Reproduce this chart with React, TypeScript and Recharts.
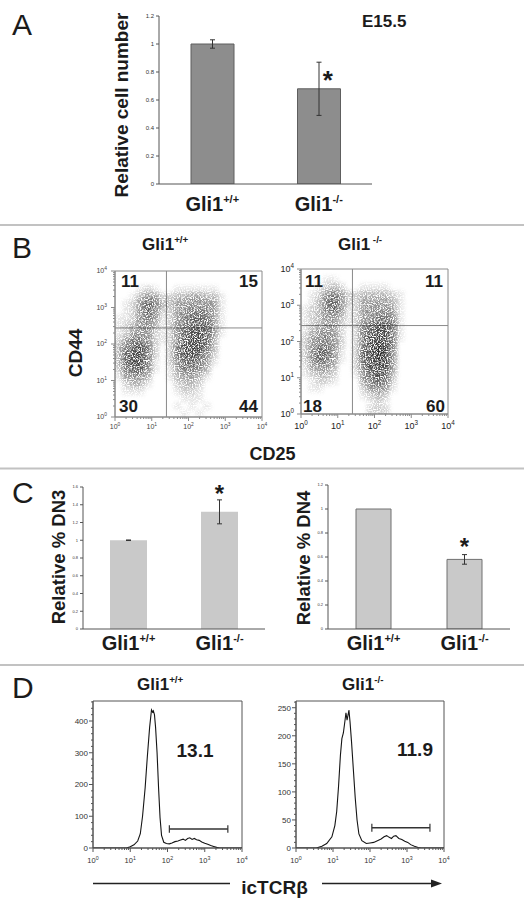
import React from 'react';
import {
  BarChart, Bar, XAxis, YAxis, ErrorBar, ReferenceDot, ReferenceLine, ReferenceArea,
  ScatterChart, Scatter, LineChart, Line,
} from 'recharts';

const FONT = '"Liberation Sans", Arial, Helvetica, sans-serif';
const INK = '#1b1b1b';

// ---------------- Panel A ----------------
const genotypes = ['Gli1+/+', 'Gli1-/-'];
const aRelCellNumber = [1.0, 0.68];
const aRelCellNumberErr = [0.03, 0.19];
const aSignificant = [false, true];
const aYTicks = [0, 0.2, 0.4, 0.6, 0.8, 1, 1.2];

// ---------------- Panel B ----------------
const bGateLogCD25 = 1.4;
const bGateLogCD44 = 2.44;
const bWtQuadrants = ['11', '15', '30', '44']; // UL, UR, LL, LR
const bKoQuadrants = ['11', '11', '18', '60'];
// event density, 0.2-decade cells, rows from CD44 10^4 down to 10^0
const bWtDensity = [
  '00000000000000000000',
  '00000000000000000000',
  '00012100111111000000',
  '00135422334433100000',
  '01257633455554100000',
  '01257522456664100000',
  '11256412467764100000',
  '12355312567774100000',
  '12455212578874100000',
  '24665212578873000000',
  '36786202688863000000',
  '37886202688752000000',
  '37886102577641000000',
  '26775101466530000000',
  '14553001344310000000',
  '02331000233200000000',
  '01110000122100000000',
  '00000000011100000000',
  '00000000101010000000',
  '00000000010100000000',
];
const bKoDensity = [
  '00000000000000000000',
  '00011000000000000000',
  '00123200111100000000',
  '01256422333321000000',
  '01367522444431000000',
  '12367512455541000000',
  '12355312456651000000',
  '12344212567761000000',
  '13454202678861000000',
  '24565202688861000000',
  '25665202689860000000',
  '25775102789850000000',
  '25765102789850000000',
  '14553002688840000000',
  '12332001578730000000',
  '01221000467620000000',
  '01100000245410000000',
  '00000000123200000000',
  '00000000012100000000',
  '00000000022200000000',
];

// ---------------- Panel C ----------------
const cDN3 = [1.0, 1.32];
const cDN3Err = [0.003, 0.135];
const cDN3Sig = [false, true];
const cDN3YTicks = [0, 0.2, 0.4, 0.6, 0.8, 1, 1.2, 1.4, 1.6];
const cDN4 = [1.0, 0.58];
const cDN4Err = [0, 0.04];
const cDN4Sig = [false, true];
const cDN4YTicks = [0, 0.2, 0.4, 0.6, 0.8, 1, 1.2];

// ---------------- Panel D ----------------
const dWtLogX = [0, 0.5, 0.9, 1.0, 1.1, 1.2, 1.27, 1.33, 1.4, 1.46, 1.52, 1.57, 1.6, 1.62, 1.65, 1.68, 1.72, 1.76, 1.8, 1.84, 1.9, 1.97, 2.05, 2.12, 2.2, 2.28, 2.35, 2.42, 2.48, 2.54, 2.6, 2.66, 2.72, 2.78, 2.85, 2.92, 3.0, 3.08, 3.16, 3.24, 3.32, 3.4, 4];
const dWtCount = [0, 0, 0, 4, 10, 22, 45, 100, 190, 290, 380, 435, 428, 432, 420, 380, 300, 190, 95, 40, 18, 14, 13, 16, 20, 22, 25, 28, 24, 30, 32, 27, 30, 26, 24, 19, 15, 12, 8, 5, 2, 0, 0];
const dKoLogX = [0, 0.55, 0.7, 0.83, 0.97, 1.05, 1.1, 1.15, 1.2, 1.24, 1.28, 1.32, 1.35, 1.38, 1.41, 1.43, 1.46, 1.5, 1.55, 1.6, 1.65, 1.7, 1.78, 1.9, 2.0, 2.1, 2.2, 2.3, 2.38, 2.45, 2.52, 2.58, 2.64, 2.7, 2.78, 2.86, 2.94, 3.02, 3.1, 3.2, 3.3, 3.38, 4];
const dKoCount = [0, 0, 3, 8, 20, 40, 65, 110, 165, 195, 205, 225, 241, 228, 238, 246, 225, 190, 140, 90, 50, 25, 13, 8, 9, 10, 13, 16, 20, 22, 19, 17, 21, 22, 17, 15, 12, 10, 6, 3, 1, 0, 0];
const dGateLog = [2.05, 3.62];
const dWtGateLevel = 60;
const dKoGateLevel = 36;
const dWtPercent = '13.1';
const dKoPercent = '11.9';
const dWtYMax = 463;
const dKoYMax = 262;

// ---------------- helpers ----------------
const logTicks: number[] = (() => {
  const t: number[] = [];
  for (let d = 0; d < 4; d++) {
    t.push(d);
    for (let k = 2; k < 10; k++) t.push(d + Math.log10(k));
  }
  t.push(4);
  return t;
})();

function frame(x0: number, y0: number, x1: number, y1: number, yw: number, xh: number, pad = 8) {
  return {
    style: { position: 'absolute' as const, left: x0 - yw - pad, top: y0 - pad },
    width: x1 - x0 + yw + 2 * pad,
    height: y1 - y0 + xh + 2 * pad,
    margin: { left: pad, top: pad, right: pad, bottom: pad },
  };
}

const Geno = ({ x, y, payload, fs, dy }: any) => {
  const s = String(payload.value);
  return (
    <text x={x} y={y + dy} textAnchor="middle" fontFamily={FONT} fontWeight="bold" fontSize={fs} fill={INK}>
      {s.slice(0, 4)}
      <tspan dy={-fs * 0.42} fontSize={fs * 0.55}>{s.slice(4)}</tspan>
    </text>
  );
};

const starLabel = (dx: number, dc: number, fs: number) => (p: any) => {
  const vb = p.viewBox || {};
  const cx = (vb.x ?? 0) + (vb.width ?? 0) / 2;
  const cy = (vb.y ?? 0) + (vb.height ?? 0) / 2;
  return (
    <text x={cx + dx} y={cy + dc + 0.55 * fs} textAnchor="middle" fontFamily={FONT} fontWeight="bold" fontSize={fs} fill={INK}>*</text>
  );
};

const isMajor = (v: number) => Math.abs(v - Math.round(v)) < 1e-6;

const LogXTick = ({ x, y, payload, fs, color, gap, line }: any) => {
  const v = payload.value;
  const major = isMajor(v);
  return (
    <g>
      <line x1={x} x2={x} y1={y} y2={y + (major ? 4 : 2)} stroke={line} strokeWidth={1} />
      {major && (
        <text x={x} y={y + gap} textAnchor="middle" fontFamily={FONT} fontSize={fs} fill={color}>
          10<tspan dy={-fs * 0.45} fontSize={fs * 0.7}>{Math.round(v)}</tspan>
        </text>
      )}
    </g>
  );
};

const LogYTick = ({ x, y, payload, fs, color, gap, line }: any) => {
  const v = payload.value;
  const major = isMajor(v);
  return (
    <g>
      <line x1={x} x2={x - (major ? 4 : 2)} y1={y} y2={y} stroke={line} strokeWidth={1} />
      {major && (
        <text x={x - gap} y={y + fs * 0.35} textAnchor="end" fontFamily={FONT} fontSize={fs} fill={color}>
          10<tspan dy={-fs * 0.45} fontSize={fs * 0.7}>{Math.round(v)}</tspan>
        </text>
      )}
    </g>
  );
};

const LinYTick = ({ x, y, payload, step, fs }: any) => {
  const v = payload.value;
  const major = Math.abs(v % step) < 1e-6;
  return (
    <g>
      <line x1={x} x2={x - (major ? 4 : 2)} y1={y} y2={y} stroke="#555" strokeWidth={1} />
      {major && (
        <text x={x - 5} y={y + fs * 0.35} textAnchor="end" fontFamily={FONT} fontSize={fs} fill="#333">{v}</text>
      )}
    </g>
  );
};

// ---------------- panels ----------------
type BarRow = { g: string; v: number; e: number; sig: boolean };

function BarPanel({ plot, data, yMax, yTicks, barSize, fill, stroke, tickFs, labelFs, labelDy, star }: any) {
  const f = frame(plot[0], plot[1], plot[2], plot[3], 40, 40);
  return (
    <div style={f.style}>
      <BarChart width={f.width} height={f.height} margin={f.margin} data={data}>
        <XAxis dataKey="g" type="category" height={40} tickSize={0} tickMargin={0} tickLine={false}
          axisLine={{ stroke: '#555' }} interval={0}
          tick={(p: any) => <Geno {...p} fs={labelFs} dy={labelDy} />} />
        <YAxis type="number" domain={[0, yMax]} ticks={yTicks} interval={0} width={40} tickSize={3} tickMargin={2}
          tickLine={{ stroke: '#555' }} axisLine={{ stroke: '#555' }}
          tick={{ fontSize: tickFs, fill: '#333', fontFamily: FONT }}
          tickFormatter={(v: number) => String(Math.round(v * 10) / 10)} allowDataOverflow />
        <Bar dataKey="v" fill={fill} stroke={stroke} strokeWidth={1} barSize={barSize} isAnimationActive={false}>
          <ErrorBar dataKey="e" width={2.5} stroke="#333" strokeWidth={1} direction="y" isAnimationActive={false} />
        </Bar>
        {(data as BarRow[]).filter((d) => d.sig).map((d) => (
          <ReferenceDot key={d.g} x={d.g} y={d.v + d.e} r={0} fill="none" stroke="none"
            label={starLabel(star[0], star[1], star[2])} />
        ))}
      </BarChart>
    </div>
  );
}

function gridCells(grid: string[]) {
  const out: { x: number; y: number; d: number }[] = [];
  grid.forEach((row, r) => {
    row.split('').forEach((ch, c) => {
      const d = Number(ch);
      if (d > 0) out.push({ x: c * 0.2 + 0.1, y: 4 - r * 0.2 - 0.1, d });
    });
  });
  return out;
}

function FlowPanel({ plot, grid, tickFs, tickColor, xGap, yGap }: any) {
  const f = frame(plot[0], plot[1], plot[2], plot[3], 30, 26);
  const cw = (plot[2] - plot[0]) / 20;
  const ch = (plot[3] - plot[1]) / 20;
  const cells = gridCells(grid);
  const line = '#8a8a8a';
  return (
    <div style={f.style}>
      <ScatterChart width={f.width} height={f.height} margin={f.margin}>
        <XAxis type="number" dataKey="x" domain={[0, 4]} ticks={logTicks} interval={0} height={26}
          tickSize={0} tickMargin={0} tickLine={false} axisLine={{ stroke: line }} allowDataOverflow
          tick={(p: any) => <LogXTick {...p} fs={tickFs} color={tickColor} gap={xGap} line={line} />} />
        <YAxis type="number" dataKey="y" domain={[0, 4]} ticks={logTicks} interval={0} width={30}
          tickSize={0} tickMargin={0} tickLine={false} axisLine={{ stroke: line }} allowDataOverflow
          tick={(p: any) => <LogYTick {...p} fs={tickFs} color={tickColor} gap={yGap} line={line} />} />
        <Scatter data={cells} className="flowcells" isAnimationActive={false}
          shape={(p: any) => (
            <rect x={p.cx - cw / 2} y={p.cy - ch / 2} width={cw} height={ch} fill="#0d0d0d"
              fillOpacity={Math.min(1, p.payload.d * 0.1)} />
          )} />
        <ReferenceArea x1={0} x2={4} y1={0} y2={4} fill="none" stroke={line} strokeWidth={1} />
        <ReferenceLine x={bGateLogCD25} stroke={line} strokeWidth={1} />
        <ReferenceLine y={bGateLogCD44} stroke={line} strokeWidth={1} />
      </ScatterChart>
    </div>
  );
}

function HistPanel({ plot, logX, counts, yMax, yMajor, yMinor, gateLevel, capH }: any) {
  const f = frame(plot[0], plot[1], plot[2], plot[3], 30, 26);
  const data = (logX as number[]).map((x, i) => ({ x, n: counts[i] }));
  const yTicks = Array.from({ length: Math.floor(yMax / yMinor) + 1 }, (_, i) => i * yMinor);
  const line = '#555';
  return (
    <div style={f.style}>
      <LineChart width={f.width} height={f.height} margin={f.margin} data={data}>
        <XAxis type="number" dataKey="x" domain={[0, 4]} ticks={logTicks} interval={0} height={26}
          tickSize={0} tickMargin={0} tickLine={false} axisLine={{ stroke: line }} allowDataOverflow
          tick={(p: any) => <LogXTick {...p} fs={7.5} color="#333" gap={15} line={line} />} />
        <YAxis type="number" domain={[0, yMax]} ticks={yTicks} interval={0} width={30}
          tickSize={0} tickMargin={0} tickLine={false} axisLine={{ stroke: line }} allowDataOverflow
          tick={(p: any) => <LinYTick {...p} step={yMajor} fs={8} />} />
        <ReferenceArea x1={0} x2={4} y1={0} y2={yMax} fill="none" stroke={line} strokeWidth={1} />
        <Line type="linear" dataKey="n" stroke="#151515" strokeWidth={1.1} dot={false} isAnimationActive={false} />
        <ReferenceLine segment={[{ x: dGateLog[0], y: gateLevel }, { x: dGateLog[1], y: gateLevel }]} stroke="#333" strokeWidth={1.4} />
        <ReferenceLine segment={[{ x: dGateLog[0], y: gateLevel - capH }, { x: dGateLog[0], y: gateLevel + capH }]} stroke="#333" strokeWidth={1.2} />
        <ReferenceLine segment={[{ x: dGateLog[1], y: gateLevel - capH }, { x: dGateLog[1], y: gateLevel + capH }]} stroke="#333" strokeWidth={1.2} />
      </LineChart>
    </div>
  );
}

const Sup = ({ x, y, base, sup, fs, anchor = 'start' }: any) => (
  <text x={x} y={y} fontFamily={FONT} fontWeight="bold" fontSize={fs} fill={INK} textAnchor={anchor}>
    {base}<tspan dy={-fs * 0.42} fontSize={fs * 0.58}>{sup}</tspan>
  </text>
);

export default function App() {
  const aData: BarRow[] = genotypes.map((g, i) => ({ g, v: aRelCellNumber[i], e: aRelCellNumberErr[i], sig: aSignificant[i] }));
  const c3Data: BarRow[] = genotypes.map((g, i) => ({ g, v: cDN3[i], e: cDN3Err[i], sig: cDN3Sig[i] }));
  const c4Data: BarRow[] = genotypes.map((g, i) => ({ g, v: cDN4[i], e: cDN4Err[i], sig: cDN4Sig[i] }));

  const tb = { fontFamily: FONT, fill: INK } as const;

  return (
    <div style={{ position: 'absolute', left: 0, top: 0, width: 524, height: 909, background: '#fff', overflow: 'hidden' }}>
      <style>{`.flowcells{filter:url(#cellblur);}`}</style>

      <BarPanel plot={[159, 16, 372, 184]} data={aData} yMax={1.2} yTicks={aYTicks} barSize={43}
        fill="#8d8d8d" stroke="#5e5e5e" tickFs={6} labelFs={20} labelDy={27} star={[9, 12, 26]} />

      <FlowPanel plot={[115, 271, 262, 417]} grid={bWtDensity} tickFs={7} tickColor="#444" xGap={12} yGap={8} />
      <FlowPanel plot={[301, 269, 448, 414]} grid={bKoDensity} tickFs={9} tickColor="#222" xGap={15} yGap={7} />

      <BarPanel plot={[83, 487, 265, 629]} data={c3Data} yMax={1.6} yTicks={cDN3YTicks} barSize={37}
        fill="#c9c9c9" stroke="none" tickFs={4} labelFs={20} labelDy={21} star={[0, -11, 24]} />
      <BarPanel plot={[328, 485, 510, 629]} data={c4Data} yMax={1.2} yTicks={cDN4YTicks} barSize={35}
        fill="#c9c9c9" stroke="#707070" tickFs={4} labelFs={20} labelDy={21} star={[0, -13, 24]} />

      <HistPanel plot={[93, 701, 242, 848]} logX={dWtLogX} counts={dWtCount} yMax={dWtYMax} yMajor={100} yMinor={20}
        gateLevel={dWtGateLevel} capH={12} />
      <HistPanel plot={[296, 701, 444, 848]} logX={dKoLogX} counts={dKoCount} yMax={dKoYMax} yMajor={50} yMinor={10}
        gateLevel={dKoGateLevel} capH={7} />

      <svg width={524} height={909} style={{ position: 'absolute', left: 0, top: 0, pointerEvents: 'none' }}>
        <defs>
          <filter id="cellblur" x="-10%" y="-10%" width="120%" height="120%">
            <feGaussianBlur in="SourceGraphic" stdDeviation="1.9" result="b" />
            <feTurbulence type="fractalNoise" baseFrequency="0.85" numOctaves="2" seed="7" result="t" />
            <feColorMatrix in="t" type="matrix"
              values="0 0 0 0 0  0 0 0 0 0  0 0 0 0 0  0 0 0 4 -1.25" result="m" />
            <feComposite in="b" in2="m" operator="in" />
          </filter>
        </defs>
        {/* separators */}
        <line x1={0} x2={524} y1={225} y2={225} stroke="#c2c2c2" strokeWidth={2} />
        <line x1={0} x2={524} y1={468.5} y2={468.5} stroke="#c2c2c2" strokeWidth={2} />
        <line x1={0} x2={524} y1={665} y2={665} stroke="#c2c2c2" strokeWidth={2} />

        {/* Panel A */}
        <text x={12} y={35} fontSize={30} {...tb}>A</text>
        <text x={362} y={27} fontSize={17} fontWeight="bold" {...tb}>E15.5</text>
        <text transform="translate(128,105) rotate(-90)" textAnchor="middle" fontSize={19} fontWeight="bold" {...tb}>Relative cell number</text>

        {/* Panel B */}
        <text x={12} y={258} fontSize={30} {...tb}>B</text>
        <Sup x={142} y={250} base="Gli1" sup="+/+" fs={17} />
        <Sup x={338} y={250} base="Gli1" sup=" -/-" fs={17} />
        <text transform="translate(82,353) rotate(-90)" textAnchor="middle" fontSize={19} fontWeight="bold" {...tb}>CD44</text>
        <text x={272.5} y={460} textAnchor="middle" fontSize={18} fontWeight="bold" {...tb}>CD25</text>
        <text x={121} y={287} fontSize={17} fontWeight="bold" {...tb}>{bWtQuadrants[0]}</text>
        <text x={258} y={287} textAnchor="end" fontSize={17} fontWeight="bold" {...tb}>{bWtQuadrants[1]}</text>
        <text x={119} y={412} fontSize={17} fontWeight="bold" {...tb}>{bWtQuadrants[2]}</text>
        <text x={258} y={412} textAnchor="end" fontSize={17} fontWeight="bold" {...tb}>{bWtQuadrants[3]}</text>
        <text x={305} y={287} fontSize={17} fontWeight="bold" {...tb}>{bKoQuadrants[0]}</text>
        <text x={443} y={287} textAnchor="end" fontSize={17} fontWeight="bold" {...tb}>{bKoQuadrants[1]}</text>
        <text x={303} y={412} fontSize={17} fontWeight="bold" {...tb}>{bKoQuadrants[2]}</text>
        <text x={445} y={412} textAnchor="end" fontSize={17} fontWeight="bold" {...tb}>{bKoQuadrants[3]}</text>

        {/* Panel C */}
        <text x={12} y={503} fontSize={30} {...tb}>C</text>
        <text transform="translate(65,557) rotate(-90)" textAnchor="middle" fontSize={18.5} fontWeight="bold" {...tb}>Relative % DN3</text>
        <text transform="translate(310,558) rotate(-90)" textAnchor="middle" fontSize={18.5} fontWeight="bold" {...tb}>Relative % DN4</text>

        {/* Panel D */}
        <text x={12} y={698} fontSize={30} {...tb}>D</text>
        <Sup x={137} y={690} base="Gli1" sup="+/+" fs={17} />
        <Sup x={342} y={690} base="Gli1" sup="-/-" fs={17} />
        <text x={195} y={757} textAnchor="middle" fontSize={19} fontWeight="bold" {...tb}>{dWtPercent}</text>
        <text x={415} y={756} textAnchor="middle" fontSize={19} fontWeight="bold" {...tb}>{dKoPercent}</text>
        <line x1={93} x2={230} y1={883.5} y2={883.5} stroke="#222" strokeWidth={1.3} />
        <line x1={322} x2={432} y1={883.5} y2={883.5} stroke="#222" strokeWidth={1.3} />
        <polygon points="431,879.5 442,883.5 431,887.5" fill="#222" />
        <text x={274.5} y={894} textAnchor="middle" fontSize={19} fontWeight="bold" {...tb}>icTCRβ</text>
      </svg>
    </div>
  );
}
